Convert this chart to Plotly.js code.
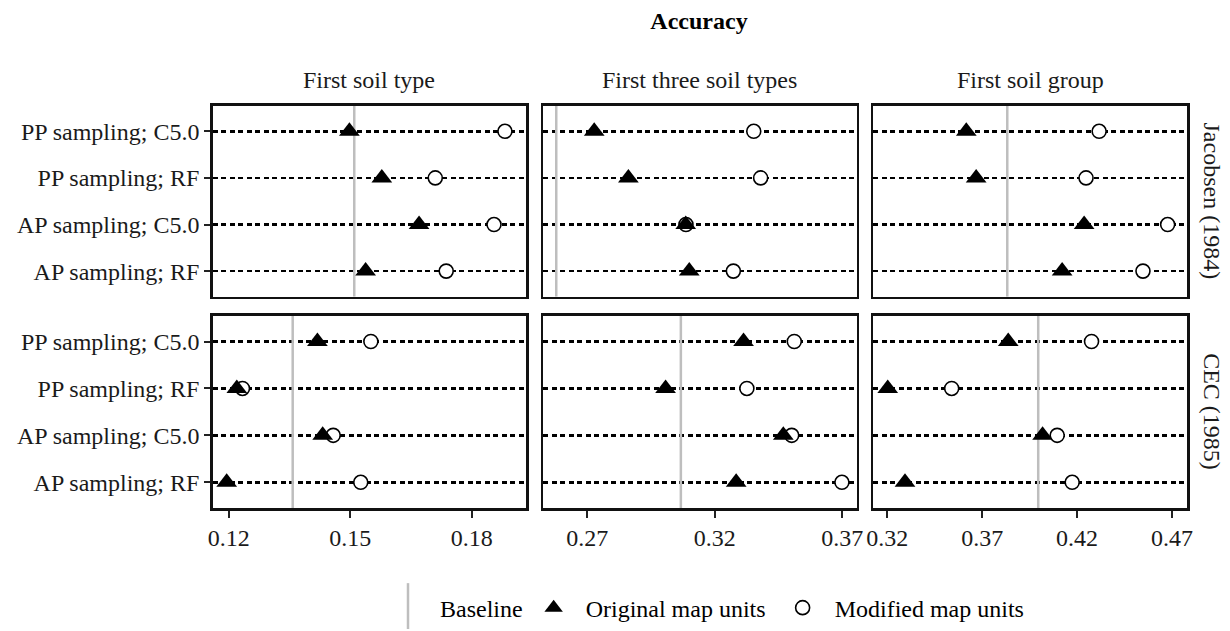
<!DOCTYPE html>
<html>
<head>
<meta charset="utf-8">
<script src="https://cdn.plot.ly/plotly-3.0.1.min.js"></script>
<style>html,body{margin:0;padding:0;background:#fff;}#chart{width:1230px;height:631px;}</style>
</head>
<body>
<div id="chart"></div>
<script>
// ---- data ----
const methods = ['PP sampling; C5.0', 'PP sampling; RF', 'AP sampling; C5.0', 'AP sampling; RF'];
const mapRefs = ['Jacobsen (1984)', 'CEC (1985)'];
const targets = ['First soil type', 'First three soil types', 'First soil group'];

// Original map units (triangles)
const origJacType  = [0.1498, 0.1578, 0.1670, 0.1538];
const origJacThree = [0.2727, 0.2861, 0.3086, 0.3100];
const origJacGroup = [0.3616, 0.3668, 0.4237, 0.4121];
const origCecType  = [0.1419, 0.1220, 0.1432, 0.1195];
const origCecThree = [0.3313, 0.3007, 0.3469, 0.3284];
const origCecGroup = [0.3837, 0.3202, 0.4018, 0.3293];

// Modified map units (circles)
const modJacType  = [0.1882, 0.1710, 0.1855, 0.1737];
const modJacThree = [0.3353, 0.3380, 0.3087, 0.3273];
const modJacGroup = [0.4316, 0.4247, 0.4677, 0.4547];
const modCecType  = [0.1551, 0.1234, 0.1458, 0.1526];
const modCecThree = [0.3512, 0.3326, 0.3502, 0.3699];
const modCecGroup = [0.4276, 0.3539, 0.4095, 0.4174];

// Baselines
const baseJac = [0.1510, 0.2578, 0.3832];
const baseCec = [0.1358, 0.3067, 0.3995];

// Column x-axis ticks
const ticksType  = [0.12, 0.15, 0.18];
const ticksThree = [0.27, 0.32, 0.37];
const ticksGroup = [0.32, 0.37, 0.42, 0.47];

// ---- assemble ----
const origRows = [[origJacType, origJacThree, origJacGroup], [origCecType, origCecThree, origCecGroup]];
const modRows  = [[modJacType, modJacThree, modJacGroup], [modCecType, modCecThree, modCecGroup]];
const baseRows = [baseJac, baseCec];
const colTicks = [ticksType, ticksThree, ticksGroup];
const colRanges = [[0.11605, 0.1934], [0.2526, 0.3757], [0.3126, 0.4779]];
const yRange = [3.55, -0.55];

const W = 1230, H = 631;
const colPx = [[212.7, 526], [543, 856.7], [873.3, 1187]];
const rowPx = [[106, 297.7], [316.7, 509.7]];
const FONT = 'Liberation Serif, Times New Roman, serif';
const fontSize = 24;
const yIdx = methods.map((m, i) => i);
const GREY = '#bebebe';
const NB = '\u00a0';

const baseTraces = [], modTraces = [], origTraces = [];
const annotations = [];
const layout = {
  width: W, height: H,
  margin: {l: 0, r: 0, t: 0, b: 0},
  paper_bgcolor: '#fff', plot_bgcolor: '#fff',
  font: {family: FONT, size: fontSize, color: '#1a1a1a'},
  showlegend: true,
  title: {text: '<b>Accuracy</b>', x: 699 / W, y: 1 - 20.7 / H, xanchor: 'center', yanchor: 'middle',
          font: {family: FONT, size: fontSize, color: '#000'}},
  legend: {orientation: 'h', x: 388 / W, xanchor: 'left', y: 1 - 610 / H, yanchor: 'middle',
           font: {family: FONT, size: fontSize, color: '#000'}, bgcolor: 'rgba(0,0,0,0)',
           traceorder: 'normal'}
};

let first = true;
for (let r = 0; r < 2; r++) {
  for (let c = 0; c < 3; c++) {
    const n = r * 3 + c + 1;
    const xs = n === 1 ? '' : String(n);
    layout['xaxis' + xs] = {
      domain: [colPx[c][0] / W, colPx[c][1] / W],
      anchor: 'y' + xs,
      range: colRanges[c],
      tickvals: colTicks[c],
      ticktext: colTicks[c].map(v => v.toFixed(2)),
      showticklabels: r === 1,
      ticks: r === 1 ? 'outside' : '',
      ticklen: 7, tickwidth: 2, tickcolor: '#222',
      tickfont: {family: FONT, size: fontSize, color: '#1a1a1a'},
      showgrid: false, zeroline: false,
      showline: true, mirror: true, linecolor: '#111', linewidth: 2.5,
      fixedrange: true
    };
    layout['yaxis' + xs] = {
      domain: [1 - rowPx[r][1] / H, 1 - rowPx[r][0] / H],
      anchor: 'x' + xs,
      range: yRange,
      tickvals: yIdx,
      ticktext: methods,
      showticklabels: c === 0,
      ticks: c === 0 ? 'outside' : '',
      ticklen: 6, tickwidth: 2, tickcolor: '#222',
      tickfont: {family: FONT, size: fontSize, color: '#1a1a1a'},
      showgrid: true, gridcolor: '#000', gridwidth: 2.5, griddash: '5px,3.5px',
      zeroline: false,
      showline: true, mirror: true, linecolor: '#111', linewidth: 2.5,
      fixedrange: true
    };
    baseTraces.push({
      type: 'scatter', mode: 'lines', x: [baseRows[r][c], baseRows[r][c]], y: yRange,
      xaxis: 'x' + xs, yaxis: 'y' + xs,
      name: 'Baseline', legendgroup: 'base', showlegend: false,
      line: {color: GREY, width: 2.5}, hoverinfo: 'skip'
    });
    modTraces.push({
      type: 'scatter', mode: 'markers', x: modRows[r][c], y: yIdx,
      xaxis: 'x' + xs, yaxis: 'y' + xs,
      name: NB + NB + 'Modified map units', legendgroup: 'mod', showlegend: first, legendrank: 3,
      marker: {symbol: 'circle', size: 14, color: '#fff', line: {color: '#000', width: 1.6}},
      cliponaxis: false, hoverinfo: 'skip'
    });
    origTraces.push({
      type: 'scatter', mode: 'markers', x: origRows[r][c], y: yIdx,
      xaxis: 'x' + xs, yaxis: 'y' + xs,
      name: NB + NB + 'Original map units' + NB + NB, legendgroup: 'orig', showlegend: first, legendrank: 2,
      marker: {symbol: 'triangle-up', size: 18, color: '#000', line: {color: '#000', width: 0}},
      cliponaxis: false, hoverinfo: 'skip'
    });
    first = false;
  }
}
// legend entry for baseline (its tall key line is drawn as a paper shape)
const baseLegend = {
  type: 'scatter', mode: 'markers', x: [null], y: [null], xaxis: 'x', yaxis: 'y',
  name: NB + NB + 'Baseline' + NB, showlegend: true, legendrank: 1,
  marker: {symbol: 'line-ns-open', size: 16, color: 'rgba(0,0,0,0)', line: {color: 'rgba(0,0,0,0)', width: 0}},
  hoverinfo: 'skip'
};
// draw order: baselines, then circles, then triangles on top
const drawOrder = [baseLegend].concat(baseTraces, modTraces, origTraces);

layout.shapes = [{
  type: 'line', xref: 'paper', yref: 'paper', x0: 408 / W, x1: 408 / W, y0: 0, y1: 1 - 585 / H,
  line: {color: GREY, width: 2.5}
}];

// strip labels
targets.forEach((t, c) => {
  annotations.push({text: t, xref: 'paper', yref: 'paper', x: (colPx[c][0] + colPx[c][1]) / 2 / W,
    y: 1 - 80 / H, xanchor: 'center', yanchor: 'middle', showarrow: false,
    font: {family: FONT, size: fontSize, color: '#1a1a1a'}});
});
mapRefs.forEach((m, r) => {
  annotations.push({text: m, xref: 'paper', yref: 'paper', x: 1211.7 / W,
    y: 1 - (rowPx[r][0] + rowPx[r][1]) / 2 / H, xanchor: 'center', yanchor: 'middle', showarrow: false,
    textangle: 90, font: {family: FONT, size: fontSize, color: '#1a1a1a'}});
});
layout.annotations = annotations;

Plotly.newPlot('chart', drawOrder, layout, {displayModeBar: false, staticPlot: true});
</script>
</body>
</html>
